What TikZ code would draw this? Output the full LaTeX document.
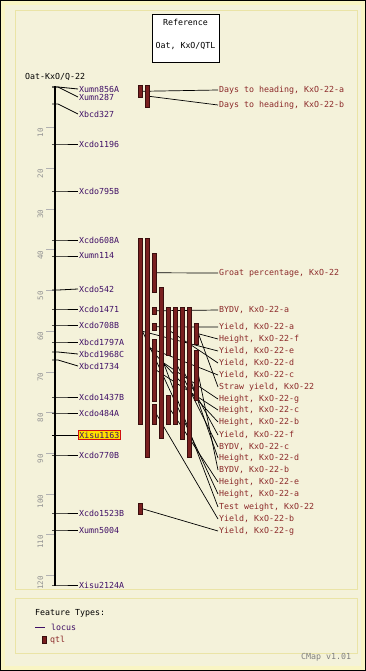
\documentclass[tikz,border=0pt]{standalone}
\usepackage{fontspec}
\setmonofont{DejaVu Sans Mono}
\usetikzlibrary{positioning}

\definecolor{cream}{HTML}{F4F2DA}
\definecolor{edgeyellow}{HTML}{F9F5C4}
\definecolor{paneledge}{HTML}{EAE4A6}
\definecolor{locuscol}{HTML}{3F0F66}
\definecolor{qtlcol}{HTML}{8C2A2A}
\definecolor{qtlfill}{HTML}{7A2020}
\definecolor{qtledge}{HTML}{3A0E0E}
\definecolor{hilite}{HTML}{FFE000}
\definecolor{hiliteedge}{HTML}{D01010}

\pgfdeclarelayer{back}
\pgfdeclarelayer{links}
\pgfsetlayers{back,links,main}

\tikzset{
  cmap/.style={font=\ttfamily\fontsize{8.3}{9}\selectfont, inner sep=1pt},
  locus/.style={cmap, text=locuscol, anchor=west},
  qtlname/.style={cmap, text=qtlcol, anchor=west},
  qtl/.style={draw=qtledge, fill=qtlfill, line width=0.6pt, inner sep=0pt,
    minimum width=3.6pt, anchor=north west},
  scalelbl/.style={font=\ttfamily\fontsize{7.5}{8}\selectfont, text=gray!85,
    rotate=90, anchor=east, inner sep=0.5pt},
  link/.style={line width=0.7pt},
}

\begin{document}
\begin{tikzpicture}[x=1pt, y=-1pt]
\useasboundingbox (0,0) rectangle (366,671);

% frame and panels
\begin{pgfonlayer}{back}
  \fill[black] (0,0) rectangle (366,671);
  \fill[edgeyellow] (1,1) rectangle (365,670);
  \fill[cream] (5,5) rectangle (361,666);
  \draw[paneledge, line width=1pt] (15.5,10.5) rectangle (357,589);
  \draw[paneledge, line width=1pt] (15.5,598.5) rectangle (357,653.5);
\end{pgfonlayer}

% reference box
\node[draw, fill=white, line width=0.8pt, minimum width=67pt, minimum height=48pt,
  inner sep=0pt] (refbox) at (185.5,38) {};
\node[cmap] (reftitle) at (185.5,22.7) {Reference};
\node[cmap] (refmap) at (185.5,46) {Oat, KxO/QTL};

\node[cmap, anchor=west] (mapname) at (24,77) {Oat-KxO/Q-22};

% scale
\foreach \c in {10,20,...,120} {
  \draw[gray!60, line width=0.8pt] (46,{87+4.07*\c}) -- (55,{87+4.07*\c});
  \node[scalelbl] (s\c) at (40.5,{87+4.07*\c}) {\c};
}

% loci
\foreach \nm/\ya/\yl in {Xumn856A/87/89, Xumn287/87/97, Xbcd327/104/114,
    Xcdo1196/144/144, Xcdo795B/191/191, Xcdo608A/240/240, Xumn114/256/256,
    Xcdo542/290/289, Xcdo1471/309/309, Xcdo708B/325/325, Xbcd1797A/342/342,
    Xbcd1968C/352/354, Xbcd1734/360/366, Xcdo1437B/397/397, Xcdo484A/413/413,
    Xcdo770B/455/455, Xcdo1523B/513/513, Xumn5004/530/530, Xisu2124A/585/585} {
  \node[locus] (\nm) at (78,\yl) {\nm};
  \coordinate (\nm-a) at (52,\ya);
  \coordinate (\nm-b) at (58,\ya);
  \draw[line width=0.8pt] (\nm-a) -- (\nm-b) -- (\nm.west);
}
\node[locus, draw=hiliteedge, fill=hilite, line width=0.8pt, inner sep=1.5pt]
  (Xisu1163) at (77.5,435) {Xisu1163};
\coordinate (Xisu1163-a) at (52,435);
\draw[line width=0.8pt] (Xisu1163-a) -- (Xisu1163.west);

% axis
\coordinate (axtop) at (55,86);
\coordinate (axbot) at (55,586);
\draw[line width=2pt] (axtop) -- (axbot);

% qtl bars
\foreach \n/\xx/\yt/\yb in {d1/138.3/85/97, d2/145/85/107,
    b1/138.3/238/424, b2/145/238/457, b3/152.3/253/292, b4/159.3/287/438,
    b5/152.3/307/314, b6/152.3/323/330, b7/152.3/339/401, b8/152.3/404/424,
    b9/166.3/307/355, b10/166.3/395/424, b11/173.3/307/424, b12/180.3/307/439,
    b13/187.3/307/457, b14/194.3/323/344, b15/194.3/350/400, g1/138.3/503/514}
  \node[qtl, minimum height={(\yb-\yt)*1pt}] (\n) at (\xx,\yt) {};

% qtl names
\foreach \id/\yl/\br/\txt in {q1/90/d1/{Days to heading, KxO-22-a},
    q2/105/d2/{Days to heading, KxO-22-b},
    q3/273/b3/{Groat percentage, KxO-22},
    q4/310/b5/{BYDV, KxO-22-a},
    q5/327/b6/{Yield, KxO-22-a},
    q6/339/b14/{Height, KxO-22-f},
    q7/351/b1/{Yield, KxO-22-e},
    q8/363/b9/{Yield, KxO-22-d},
    q9/375/b2/{Yield, KxO-22-c},
    q10/387/b14/{Straw yield, KxO-22},
    q11/399/b4/{Height, KxO-22-g},
    q12/410/b7/{Height, KxO-22-c},
    q13/422/b2/{Height, KxO-22-b},
    q14/435/b12/{Yield, KxO-22-f},
    q15/447/b11/{BYDV, KxO-22-c},
    q16/458/b13/{Height, KxO-22-d},
    q17/470/b15/{BYDV, KxO-22-b},
    q18/482/b10/{Height, KxO-22-e},
    q19/494/b1/{Height, KxO-22-a},
    q20/507/b4/{Test weight, KxO-22},
    q21/519/b8/{Yield, KxO-22-b},
    q22/531/g1/{Yield, KxO-22-g}} {
  \node[qtlname] (\id) at (218,\yl) {\txt};
  \begin{pgfonlayer}{links}
    \draw[link] (\br.east) -- (\id.west);
  \end{pgfonlayer}
}

% legend
\node[cmap, anchor=west] (ftypes) at (34,613) {Feature Types:};
\node[locus] (lglocus) at (50,627) {locus};
\coordinate (lgline) at (35,627);
\draw[locuscol, line width=0.8pt] (lgline) -- ([xshift=-5pt]lglocus.west);
\node[qtl, minimum height=7pt] (lgbar) at (42.3,636) {};
\node[qtlname] (lgqtl) at (49,640) {qtl};

\node[cmap, anchor=west, text=gray] (version) at (300,657) {CMap v1.01};
\end{tikzpicture}
\end{document}
